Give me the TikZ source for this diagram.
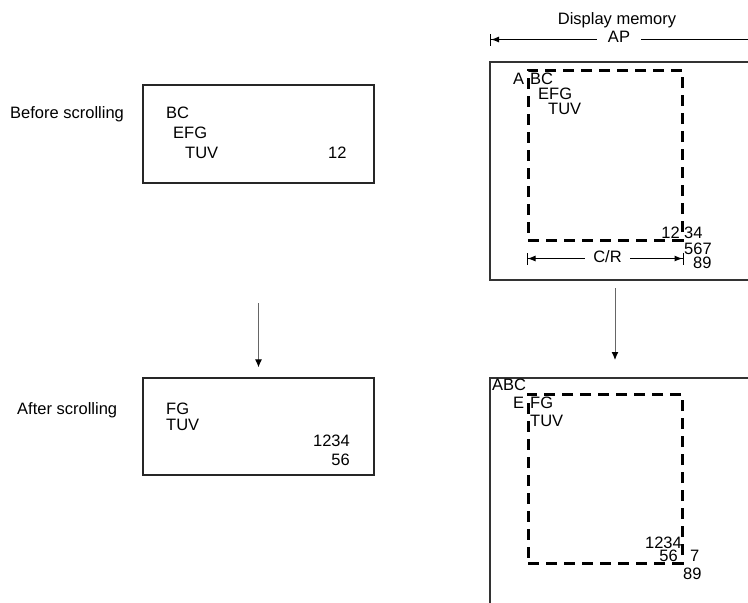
\documentclass[tikz,border=0pt]{standalone}
\usepackage{fontspec}
\setmainfont{Liberation Sans}
\usetikzlibrary{arrows.meta,positioning}
\tikzset{
  screen/.style={draw=black!85, line width=1.4pt, minimum width=231pt, inner sep=0pt},
  frame/.style={draw=black!80, line width=2pt},
  window/.style={draw=black, line width=3pt, dash pattern=on 11pt off 7pt,
    minimum width=154pt, inner sep=0pt},
  txt/.style={anchor=base west, inner sep=0pt},
  rtxt/.style={anchor=base east, inner sep=0pt},
  arr/.style={-{Latex[length=8pt,width=7pt,color=black]}, draw=black!60, line width=1pt},
  dim/.style={{Bar[width=12pt,line width=1pt]Latex[length=8pt,width=6pt]}-{Latex[length=8pt,width=6pt]Bar[width=12pt,line width=1pt]},
    line width=1pt},
  gap/.style={fill=white, inner ysep=1pt}
}

\begin{document}
\begin{tikzpicture}[x=1pt, y=-1pt, font=\fontsize{16.5}{19}\selectfont]
  \useasboundingbox (0,0) rectangle (748,603);

  % screen, before and after
  \node[screen, minimum height=98pt] (before) at (258.5,134) {};
  \node[screen, minimum height=97pt] (after) at (258.5,426.5) {};
  \node[txt] (beforelbl) at (10,118) {Before scrolling};
  \node[txt] (afterlbl) at (17,414) {After scrolling};

  \node[txt] (b1) at (166,118) {BC};
  \node[txt] (b2) at (173,138) {EFG};
  \node[txt] (b3) at (185,158) {TUV};
  \node[txt] (b4) at (328,158) {12};

  \node[txt] (a1) at (166,414) {FG};
  \node[txt] (a2) at (166,430) {TUV};
  \node[rtxt] (a3) at (350,446) {1234};
  \node[rtxt] (a4) at (350,465) {56};

  \coordinate (scrarr) at (258.5,303);
  \draw[arr, shorten >=10pt] (scrarr) -- (after.north);

  % display memory
  \node[anchor=base] (dmlbl) at (617,24) {Display memory};
  \coordinate (apl) at (490,39.5);
  \coordinate (apr) at (748,39.5);
  \draw[{Bar[width=12pt,line width=1pt]Latex[length=8pt,width=6pt]}-, line width=1pt] (apl) -- (apr);
  \node[gap, inner xsep=11pt] (ap) at (619,37) {AP};

  \coordinate (m1nw) at (490,62);
  \coordinate (m1sw) at (490,280);
  \draw[frame] (748,62) -- (m1nw) -- (m1sw) -- (748,280);
  \node[window, minimum height=170pt] (win1) at (605,155) {};

  \node[txt] (m1a) at (513,84) {A};
  \node[txt] (m1b) at (530,84) {BC};
  \node[txt] (m1c) at (538,99) {EFG};
  \node[txt] (m1d) at (548,114) {TUV};
  \node[rtxt] (m1e) at (680,238) {12};
  \node[txt] (m1f) at (684,238) {34};
  \node[txt] (m1g) at (684,254) {567};
  \node[txt] (m1h) at (693,268) {89};

  \draw[dim] ([yshift=-17pt]win1.south west) -- ([yshift=-17pt]win1.south east);
  \node[gap, inner xsep=8pt] (cr) at (607.5,257) {C/R};

  \coordinate (memarr) at (615,288);
  \coordinate (m2top) at (615,378);
  \draw[arr, shorten >=18pt] (memarr) -- (m2top);

  \coordinate (m2nw) at (490,378);
  \draw[frame] (748,378) -- (m2nw) -- (490,603);
  \node[window, minimum height=169pt] (win2) at (605,478.5) {};

  \node[txt] (m2a) at (492,390) {ABC};
  \node[txt] (m2b) at (513,408) {E};
  \node[txt] (m2c) at (530,408) {FG};
  \node[txt] (m2d) at (530,426) {TUV};
  \node[rtxt] (m2e) at (682,548) {1234};
  \node[rtxt] (m2f) at (678,561) {56};
  \node[txt] (m2g) at (690,561) {7};
  \node[txt] (m2h) at (683,579) {89};
\end{tikzpicture}
\end{document}
